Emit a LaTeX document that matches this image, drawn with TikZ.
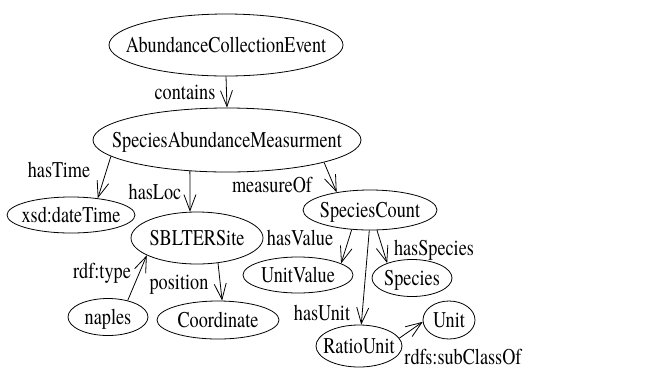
\documentclass[tikz,border=0pt]{standalone}
\usepackage{fontspec}
\setmainfont{TeX Gyre Termes}[FakeStretch=0.81]
\usetikzlibrary{shapes.geometric,arrows.meta}
\tikzset{
  ent/.style={ellipse, draw, line width=0.8pt, inner sep=0pt, text height=15pt, text depth=1pt},
  lbl/.style={anchor=base, inner sep=0pt},
  rel/.style={line width=0.8pt, -{Straight Barb[length=16pt,width=12pt,line width=0.8pt]}},
}
\begin{document}
\begin{tikzpicture}[x=1pt,y=-1pt,font=\rmfamily\fontsize{22.5}{24}\selectfont]
\useasboundingbox (0,0) rectangle (647,373);
\node[ent, minimum width=234pt, minimum height=62pt] (ace) at (226,45) {\makebox[0pt]{AbundanceCollectionEvent}};
\node[ent, minimum width=268pt, minimum height=64pt] (sam) at (227,140) {\makebox[0pt]{SpeciesAbundanceMeasurment}};
\node[ent, minimum width=128pt, minimum height=36pt] (xsd) at (71,215) {\makebox[0pt]{xsd:dateTime}};
\node[ent, minimum width=132pt, minimum height=52pt] (site) at (197,238) {\makebox[0pt]{SBLTERSite}};
\node[ent, minimum width=134pt, minimum height=40pt] (sc) at (370,210) {\makebox[0pt]{SpeciesCount}};
\node[ent, minimum width=110pt, minimum height=36pt] (uv) at (298,275) {\makebox[0pt]{UnitValue}};
\node[ent, minimum width=80pt, minimum height=37pt] (sp) at (412,278) {\makebox[0pt]{Species}};
\node[ent, minimum width=80pt, minimum height=37pt] (nap) at (108,317) {\makebox[0pt]{naples}};
\node[ent, minimum width=122pt, minimum height=38pt] (coord) at (218,320) {\makebox[0pt]{Coordinate}};
\node[ent, minimum width=52pt, minimum height=38pt] (unit) at (449,320) {\makebox[0pt]{Unit}};
\node[ent, minimum width=86pt, minimum height=42pt] (ru) at (359,346) {\makebox[0pt]{RatioUnit}};

\draw[rel] (ace.south) -- (sam.north);
\draw[rel] (sam.188) -- (xsd.32);
\draw[rel] (sam.220) -- (site.105);
\draw[rel] (sam.347.5) -- (sc.152);
\draw[rel] (sc.227) -- (uv.15);
\draw[rel] (sc.289) -- (sp.149);
\draw[rel] (sc.268) -- (ru.84);
\draw[rel] (ru.11) -- (unit.184);
\draw[rel] (nap.40) -- (site.199);
\draw[rel] (site.310) -- (coord.78);

\node[lbl] (l1) at (185,99) {contains};
\node[lbl] (l2) at (59,177) {hasTime};
\node[lbl] (l3) at (155,199) {hasLoc};
\node[lbl] (l4) at (272,192) {measureOf};
\node[lbl] (l5) at (300,245) {hasValue};
\node[lbl] (l6) at (434,255) {hasSpecies};
\node[lbl] (l7) at (102,278) {rdf:type};
\node[lbl] (l8) at (179,289) {position};
\node[lbl] (l9) at (322,320) {hasUnit};
\node[lbl] (l10) at (463,364) {rdfs:subClassOf};
\end{tikzpicture}
\end{document}
